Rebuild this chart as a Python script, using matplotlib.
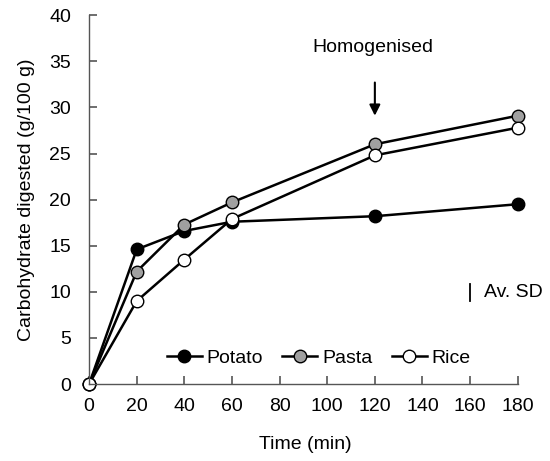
import matplotlib
matplotlib.use('Agg')
import matplotlib.pyplot as plt

plt.rcParams['font.family'] = ['Liberation Sans', 'DejaVu Sans']

tiempo = [0, 20, 40, 60, 120, 180]
potato = [0, 14.6, 16.6, 17.6, 18.2, 19.5]
pasta = [0, 12.2, 17.3, 19.7, 26.0, 29.1]
rice = [0, 9.0, 13.5, 17.9, 24.8, 27.8]

av_sd_x = 160
av_sd_y = [9.0, 10.9]
homog_x = 120

fs = 14

fig = plt.figure(figsize=(5.5, 4.61), dpi=100)
ax = fig.add_axes([0.162, 0.167, 0.788, 0.800])

estilo = dict(color='black', lw=1.8, markersize=9, markeredgecolor='black', markeredgewidth=1.0)
ax.plot(tiempo, potato, marker='o', markerfacecolor='black', label='Potato', **estilo)
ax.plot(tiempo, pasta, marker='o', markerfacecolor='#a0a0a0', label='Pasta', **estilo)
ax.plot(tiempo, rice, marker='o', markerfacecolor='white', label='Rice', **estilo)

# barra de SD promedio
ax.plot([av_sd_x, av_sd_x], av_sd_y, color='black', lw=1.3)
ax.text(av_sd_x + 6, sum(av_sd_y) / 2, 'Av. SD', fontsize=fs, va='center', ha='left')

# flecha de homogeneizado
ax.annotate('', xy=(homog_x, 28.8), xytext=(homog_x, 33.0),
            arrowprops=dict(arrowstyle='-|>', color='black', lw=1.5, mutation_scale=16))
ax.text(homog_x - 1, 35.6, 'Homogenised', fontsize=fs, ha='center', va='bottom')

ax.set_xlim(0, 182)
ax.set_ylim(0, 40)
ax.set_xticks(range(0, 181, 20))
ax.set_yticks(range(0, 41, 5))
ax.tick_params(direction='in', length=6, width=1.2, labelsize=fs, color='#555555')
ax.tick_params(axis='x', pad=10)
ax.tick_params(axis='y', pad=13)
ax.spines['top'].set_visible(False)
ax.spines['right'].set_visible(False)
for s in ['left', 'bottom']:
    ax.spines[s].set_color('#555555')
    ax.spines[s].set_linewidth(1.0)
ax.spines['bottom'].set_bounds(0, 180)

ax.set_xlabel('Time (min)', fontsize=fs, labelpad=15)
ax.set_ylabel('Carbohydrate digested (g/100 g)', fontsize=fs, labelpad=10)

ax.legend(loc='lower center', bbox_to_anchor=(0.53, 0.0), ncol=3, frameon=False,
          fontsize=fs, handlelength=1.8, handletextpad=0.25, columnspacing=1.0, markerscale=1.0)

for line in ax.lines[:3]:
    line.set_clip_on(False)

fig.savefig('out.png', dpi=100)
